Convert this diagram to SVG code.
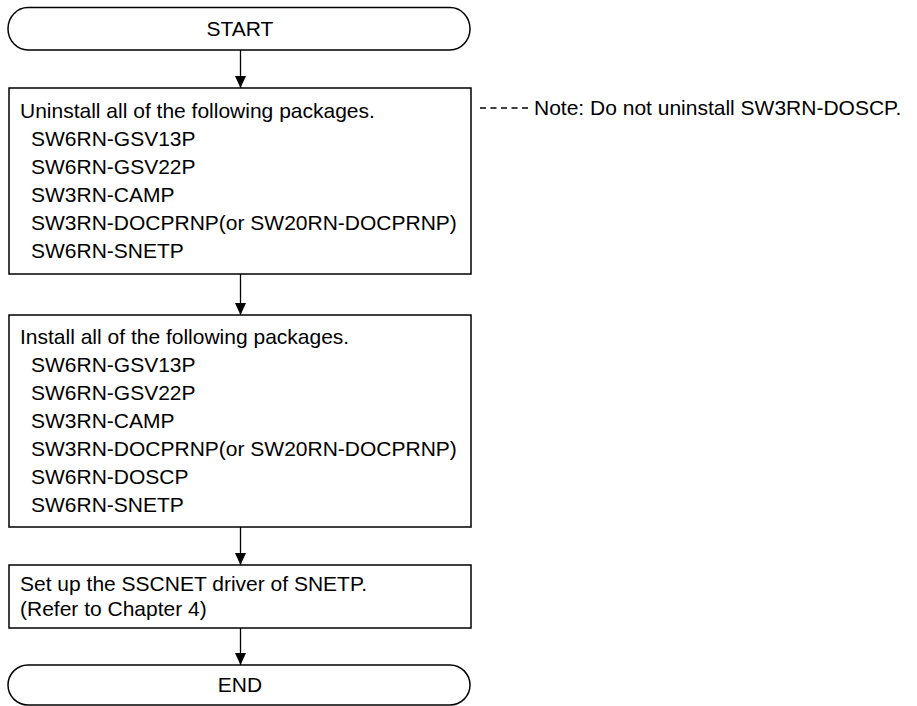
<svg xmlns="http://www.w3.org/2000/svg" width="917" height="706" viewBox="0 0 917 706">
<defs>
<style>
.s{fill:none;stroke:#000;stroke-width:1.5}
.t{font-family:"Liberation Sans",Arial,sans-serif;font-size:21px;fill:#000}
.c{text-anchor:middle}
.l{stroke:#000;stroke-width:1.3;fill:none}
</style>
<marker id="ah" viewBox="0 0 12 11" refX="12" refY="5.5" markerWidth="12" markerHeight="11" markerUnits="userSpaceOnUse" orient="auto">
<path d="M0,0 L12,5.5 L0,11 Z" fill="#000"/>
</marker>
</defs>
<rect width="917" height="706" fill="#fff"/>
<g id="start">
<path class="s" d="M28,7.5 H450 A20,21.25 0 0 1 450,50 H28 A20,21.25 0 0 1 28,7.5 Z"/>
<text class="t c" x="240" y="36">START</text>
</g>
<g id="uninstall">
<rect class="s" x="9" y="88" width="462" height="186"/>
<text class="t" x="20" y="118">Uninstall all of the following packages.</text>
<text class="t" x="31" y="146">SW6RN-GSV13P</text>
<text class="t" x="31" y="174">SW6RN-GSV22P</text>
<text class="t" x="31" y="202">SW3RN-CAMP</text>
<text class="t" x="31" y="230">SW3RN-DOCPRNP(or SW20RN-DOCPRNP)</text>
<text class="t" x="31" y="258">SW6RN-SNETP</text>
</g>
<g id="note">
<text class="t" x="534" y="115">Note: Do not uninstall SW3RN-DOSCP.</text>
</g>
<g id="install">
<rect class="s" x="9" y="315" width="462" height="212"/>
<text class="t" x="20" y="344">Install all of the following packages.</text>
<text class="t" x="31" y="372">SW6RN-GSV13P</text>
<text class="t" x="31" y="400">SW6RN-GSV22P</text>
<text class="t" x="31" y="428">SW3RN-CAMP</text>
<text class="t" x="31" y="456">SW3RN-DOCPRNP(or SW20RN-DOCPRNP)</text>
<text class="t" x="31" y="484">SW6RN-DOSCP</text>
<text class="t" x="31" y="512">SW6RN-SNETP</text>
</g>
<g id="setup">
<rect class="s" x="9" y="565" width="462" height="63"/>
<text class="t" x="20" y="591">Set up the SSCNET driver of SNETP.</text>
<text class="t" x="20" y="616">(Refer to Chapter 4)</text>
</g>
<g id="end">
<path class="s" d="M28,665 H450 A20,20 0 0 1 450,705 H28 A20,20 0 0 1 28,665 Z"/>
<text class="t c" x="240" y="692">END</text>
</g>
<g id="connectors">
<line class="l" x1="240.5" y1="50" x2="240.5" y2="88" marker-end="url(#ah)"/>
<line class="l" x1="240.5" y1="274" x2="240.5" y2="315" marker-end="url(#ah)"/>
<line class="l" x1="240.5" y1="527" x2="240.5" y2="565" marker-end="url(#ah)"/>
<line class="l" x1="240.5" y1="628" x2="240.5" y2="665" marker-end="url(#ah)"/>
<line class="l" x1="480" y1="108" x2="532" y2="108" stroke-dasharray="6,4.5"/>
</g>
</svg>
